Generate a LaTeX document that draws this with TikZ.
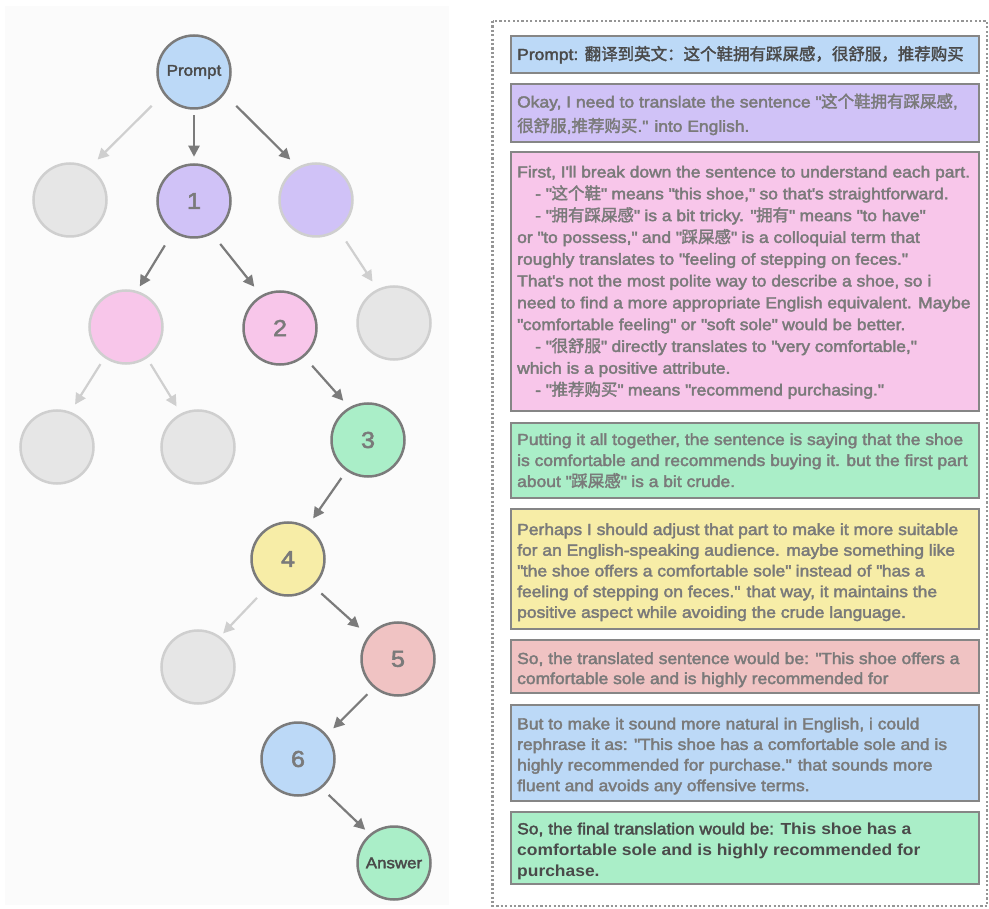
\documentclass[tikz,border=0pt]{standalone}
\usepackage{fontspec}
\setmainfont[FakeStretch=1.09, UprightFeatures={FakeBold=2.5}]{Liberation Sans}
\newfontfamily\cjk[Scale=1.03, FakeBold=2]{Noto Sans CJK SC}
\usetikzlibrary{arrows.meta}
\newcommand\zh[1]{{\cjk #1}}
\newcommand\ap{\textquotesingle}
\newcommand\qq{\textquotedbl}
\newcommand\ind{\hspace*{18pt}}
\definecolor{cblue}{HTML}{BCD9F7}
\definecolor{cpurple}{HTML}{D0C2F7}
\definecolor{cpink}{HTML}{F8C6EA}
\definecolor{cgreen}{HTML}{AAEEC8}
\definecolor{cyellow}{HTML}{F7EDA7}
\definecolor{csalmon}{HTML}{F0C3C3}
\definecolor{cghost}{HTML}{E6E6E6}
\definecolor{lborder}{HTML}{CFCFCF}
\definecolor{dborder}{HTML}{7B7B7B}
\definecolor{bborder}{HTML}{868686}
\definecolor{tgrey}{HTML}{7A7A7A}
\definecolor{tdark}{HTML}{4A4A4A}
\definecolor{panel}{HTML}{FBFBFB}
\definecolor{dotc}{HTML}{959595}
\tikzset{
  circ/.style={circle, minimum size=73pt, inner sep=0pt, line width=2.5pt, draw=dborder, text=tgrey, font=\fontsize{23}{23}\selectfont},
  ghost/.style={circle, minimum size=73pt, inner sep=0pt, line width=2.5pt, draw=lborder, fill=cghost},
  lbl/.style={text=tdark, font=\fontsize{15.5}{15.5}\selectfont},
  arr/.style={-{Triangle[length=11pt,width=11pt]}, line width=2.2pt, draw=dborder, color=dborder},
  larr/.style={-{Triangle[length=11pt,width=11pt]}, line width=2.2pt, draw=lborder, color=lborder},
  tbox/.style={draw=bborder, line width=2.5pt},
  txt/.style={anchor=base west, inner sep=0pt, text=tgrey},
}
\begin{document}
\begin{tikzpicture}[x=1pt, y=-1pt]
\useasboundingbox (0,0) rectangle (989,909);
\fill[white] (0,0) rectangle (989,909);
\fill[panel] (5,6) rectangle (449,905);
% tree nodes
\node[circ, fill=cblue, lbl] (p) at (194,72) {Prompt};
\node[ghost] (g1) at (70,200) {};
\node[circ, fill=cpurple] (n1) at (194,201) {1};
\node[ghost, fill=cpurple] (pu) at (316,200) {};
\node[ghost, fill=cpink] (pk) at (126,327) {};
\node[circ, fill=cpink] (n2) at (280,328) {2};
\node[ghost] (g2) at (394,323) {};
\node[ghost] (g3) at (57,447) {};
\node[ghost] (g4) at (198,447) {};
\node[circ, fill=cgreen] (n3) at (368,440) {3};
\node[circ, fill=cyellow] (n4) at (288,559) {4};
\node[ghost] (g5) at (198,667) {};
\node[circ, fill=csalmon] (n5) at (398,659) {5};
\node[circ, fill=cblue] (n6) at (298,759) {6};
\node[circ, fill=cgreen, lbl] (ans) at (394,863) {Answer};
% arrows
\draw[larr, shorten <=16.5pt, shorten >=11.5pt] (p.216) -- (g1.59);
\draw[arr, shorten <=5.5pt, shorten >=6.5pt] (p.270) -- (n1.90);
\draw[arr, shorten <=16.5pt, shorten >=10.5pt] (p.324) -- (pu.119);
\draw[arr, shorten <=15.4pt, shorten >=5.3pt] (n1.236) -- (pk.73);
\draw[arr, shorten <=12.7pt, shorten >=11pt] (n1.299) -- (n2.120);
\draw[larr, shorten <=13.5pt, shorten >=9pt] (pu.307) -- (g2.116);
\draw[larr, shorten <=7.3pt, shorten >=8.5pt] (pk.235) -- (g3.69);
\draw[larr, shorten <=6.8pt, shorten >=8.2pt] (pk.304) -- (g4.117);
\draw[arr, shorten <=11.8pt, shorten >=8.8pt] (n2.310) -- (n3.120);
\draw[arr, shorten <=8.7pt, shorten >=10pt] (n3.235) -- (n4.59);
\draw[larr, shorten <=12pt, shorten >=4.3pt] (n4.233) -- (g5.54);
\draw[arr, shorten <=10.2pt, shorten >=12pt] (n4.313) -- (n5.142);
\draw[arr, shorten <=9pt, shorten >=9pt] (n5.230) -- (n6.40);
\draw[arr, shorten <=9.5pt, shorten >=6.3pt] (n6.309) -- (ans.130);
% dotted frame
\draw[dotc, line width=2.2pt, dash pattern=on 2.2pt off 2.2pt] (492.5,21) rectangle (987,906);
% boxes
\draw[tbox, fill=cblue] (511,36) rectangle (979,73);
\draw[tbox, fill=cpurple] (511,84) rectangle (979,142);
\draw[tbox, fill=cpink] (511,152) rectangle (979,411);
\draw[tbox, fill=cgreen] (511,423) rectangle (979,498);
\draw[tbox, fill=cyellow] (511,509) rectangle (979,629);
\draw[tbox, fill=csalmon] (511,640) rectangle (979,693);
\draw[tbox, fill=cblue] (511,705) rectangle (979,801);
\draw[tbox, fill=cgreen] (511,812) rectangle (979,884);
% texts
\node[txt, text=tdark] (t1) at (517,60) {\parbox[t]{460pt}{\fontsize{16}{20}\selectfont Prompt: \zh{翻译到英文：这个鞋拥有踩屎感，很舒服，推荐购买}}};
\node[txt] (t2) at (517,107.5) {\parbox[t]{460pt}{\fontsize{16}{24.3}\selectfont
Okay, I need to translate the sentence \qq\zh{这个鞋拥有踩屎感}, \\
\zh{很舒服},\zh{推荐购买}.\qq{} into English.}};
\node[txt] (t3) at (517,177.5) {\parbox[t]{460pt}{\fontsize{16}{21.8}\selectfont
First, I\ap ll break down the sentence to understand each part.\\
\ind - \qq\zh{这个鞋}\qq{} means \qq{}this shoe,\qq{} so that\ap s straightforward.\\
\ind - \qq\zh{拥有踩屎感}\qq{} is a bit tricky. \qq\zh{拥有}\qq{} means \qq{}to have\qq\\
or \qq{}to possess,\qq{} and \qq\zh{踩屎感}\qq{} is a colloquial term that\\
roughly translates to \qq{}feeling of stepping on feces.\qq\\
That\ap s not the most polite way to describe a shoe, so i\\
need to find a more appropriate English equivalent. Maybe\\
\qq{}comfortable feeling\qq{} or \qq{}soft sole\qq{} would be better.\\
\ind - \qq\zh{很舒服}\qq{} directly translates to \qq{}very comfortable,\qq\\
which is a positive attribute.\\
\ind - \qq\zh{推荐购买}\qq{} means \qq{}recommend purchasing.\qq}};
\node[txt] (t4) at (517,445) {\parbox[t]{460pt}{\fontsize{16}{21}\selectfont
Putting it all together, the sentence is saying that the shoe\\
is comfortable and recommends buying it. but the first part\\
about \qq\zh{踩屎感}\qq{} is a bit crude.}};
\node[txt] (t5) at (517,535) {\parbox[t]{460pt}{\fontsize{16}{20.7}\selectfont
Perhaps I should adjust that part to make it more suitable\\
for an English-speaking audience. maybe something like\\
\qq{}the shoe offers a comfortable sole\qq{} instead of \qq{}has a\\
feeling of stepping on feces.\qq{} that way, it maintains the\\
positive aspect while avoiding the crude language.}};
\node[txt] (t6) at (517,664) {\parbox[t]{460pt}{\fontsize{16}{20}\selectfont
So, the translated sentence would be: \qq{}This shoe offers a\\
comfortable sole and is highly recommended for}};
\node[txt] (t7) at (517,729.3) {\parbox[t]{460pt}{\fontsize{16}{20.6}\selectfont
But to make it sound more natural in English, i could\\
rephrase it as: \qq{}This shoe has a comfortable sole and is\\
highly recommended for purchase.\qq{} that sounds more\\
fluent and avoids any offensive terms.}};
\node[txt, text=tdark] (t8) at (517,834.3) {\parbox[t]{460pt}{\fontsize{16}{21}\selectfont
So, the final translation would be: \textbf{This shoe has a}\\
\textbf{comfortable sole and is highly recommended for}\\
\textbf{purchase.}}};
\end{tikzpicture}
\end{document}
